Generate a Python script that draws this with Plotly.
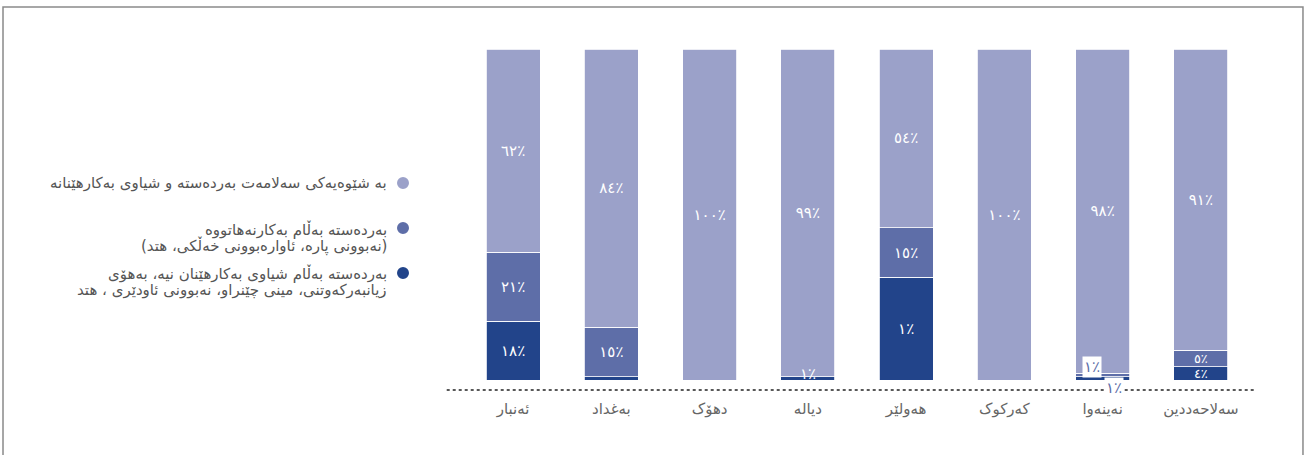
import plotly.graph_objects as go

# ---------------- data ----------------
categories = ["ئەنبار", "بەغداد", "دهۆک", "دیالە", "هەولێر", "کەرکوک", "نەینەوا", "سەلاحەددین"]

series_names = [
    "بە شێوەیەکی سەلامەت بەردەستە و شیاوی بەکارهێنانە",
    "بەردەستە بەڵام بەکارنەهاتووە<br>(نەبوونی پارە، ئاوارەبوونی خەڵکی، هتد)",
    "بەردەستە بەڵام شیاوی بەکارهێنان نیە، بەهۆی<br>زیانبەرکەوتنی، مینی چێنراو، نەبوونی ئاودێری ، هتد",
]

usable_values = [62, 84, 100, 99, 54, 100, 98, 91]
unused_values = [21, 15, 0, 0, 15, 0, 1, 5]
unusable_values = [18, 1, 0, 1, 31, 0, 1, 4]

usable_labels = ["٦٢٪", "٨٤٪", "١٠٠٪", "٩٩٪", "٥٤٪", "١٠٠٪", "٩٨٪", "٩١٪"]
unused_labels = ["٢١٪", "١٥٪", "", "", "١٥٪", "", "", "٥٪"]
unusable_labels = ["١٨٪", "", "", "", "١٪", "", "", "٤٪"]

# label for the thin dark segment of دیالە, drawn just above it
raised_category = "دیالە"
raised_label = "١٪"

# labels drawn in boxes beside the thin segments (نەینەوا)
boxed_category = "نەینەوا"
boxed_unused_label = "١٪"
boxed_unusable_label = "١٪"

colors = ["#9BA1C9", "#5E6EA8", "#22448A"]
FONT = "DejaVu Sans"
LABEL_SIZE = 15
SMALL_LABEL_SIZE = 13

fig = go.Figure()
for name, vals, labs, col in [
    (series_names[2], unusable_values, unusable_labels, colors[2]),
    (series_names[1], unused_values, unused_labels, colors[1]),
    (series_names[0], usable_values, usable_labels, colors[0]),
]:
    sizes = [SMALL_LABEL_SIZE if 0 < v < 6 else LABEL_SIZE for v in vals]
    fig.add_trace(go.Bar(
        x=categories, y=vals, name=name, text=labs,
        textposition="inside", insidetextanchor="middle", textangle=0,
        constraintext="none", cliponaxis=False,
        textfont=dict(color="white", size=sizes, family=FONT),
        marker=dict(color=col, line=dict(color="white", width=0.8)),
        showlegend=False, hoverinfo="skip",
    ))

# raised label for دیالە
j = categories.index(raised_category)
totj = usable_values[j] + unused_values[j] + unusable_values[j]
fig.add_annotation(x=raised_category, y=unusable_values[j] / totj * 100, text=raised_label,
                   showarrow=False, yanchor="middle", yshift=3,
                   font=dict(color="white", size=LABEL_SIZE, family=FONT))

# boxed labels for نەینەوا
i = categories.index(boxed_category)
tot = usable_values[i] + unused_values[i] + unusable_values[i]
y_unused = (unusable_values[i] + unused_values[i] / 2) / tot * 100
y_unusable = unusable_values[i] / 2 / tot * 100
fig.add_annotation(x=boxed_category, y=y_unused, text=boxed_unused_label, showarrow=False,
                   xshift=-11, yshift=8, bgcolor="white", borderpad=1,
                   font=dict(color=colors[1], size=LABEL_SIZE, family=FONT))
fig.add_annotation(x=boxed_category, y=y_unusable, text=boxed_unusable_label, showarrow=False,
                   xshift=11, yshift=-10, bgcolor="white", borderpad=1,
                   font=dict(color=colors[1], size=LABEL_SIZE, family=FONT))

# legend (text right-aligned, marker on the right), one annotation per line
legend_y_first = [0.607, 0.472, 0.343]   # centre of first line (paper)
legend_y_dot = [0.607, 0.475, 0.343]
line_step = 16.8 / 341
for k in range(3):
    for n, line in enumerate(series_names[k].split("<br>")):
        fig.add_annotation(xref="paper", yref="paper", x=-0.0954,
                           y=legend_y_first[k] - n * line_step,
                           xanchor="right", yanchor="middle", align="right",
                           text=line, showarrow=False,
                           font=dict(color="#555555", size=15, family=FONT))
    fig.add_shape(type="circle", xref="paper", yref="paper",
                  xsizemode="pixel", ysizemode="pixel",
                  xanchor=-0.0776, yanchor=legend_y_dot[k],
                  x0=-6, x1=6, y0=-6, y1=6,
                  fillcolor=colors[k], line=dict(width=0))

# dotted baseline
fig.add_shape(type="line", xref="paper", yref="paper", x0=-0.022, x1=1.006, y0=0, y1=0,
              line=dict(color="#222222", width=1.6, dash="dot"), layer="below")
# outer frame
fig.add_shape(type="rect", xref="paper", yref="paper", x0=-0.5865, x1=1.0674, y0=1.123, y1=-0.35,
              line=dict(color="#8a8a8a", width=1.5))

fig.update_layout(
    barmode="stack", barnorm="percent", bargap=0.45,
    width=1308, height=455,
    margin=dict(l=464, r=58, t=49, b=65),
    paper_bgcolor="white", plot_bgcolor="rgba(0,0,0,0)",
    font=dict(family=FONT),
    xaxis=dict(showgrid=False, showline=False, ticks="", ticklabelstandoff=8,
               tickfont=dict(color="#666666", size=15, family=FONT)),
    yaxis=dict(visible=False, range=[-3.0, 100]),
    showlegend=False,
)

fig.write_html("out.html", config={"displayModeBar": False},
               post_script="document.body.style.margin='0';document.body.style.overflow='hidden';")
